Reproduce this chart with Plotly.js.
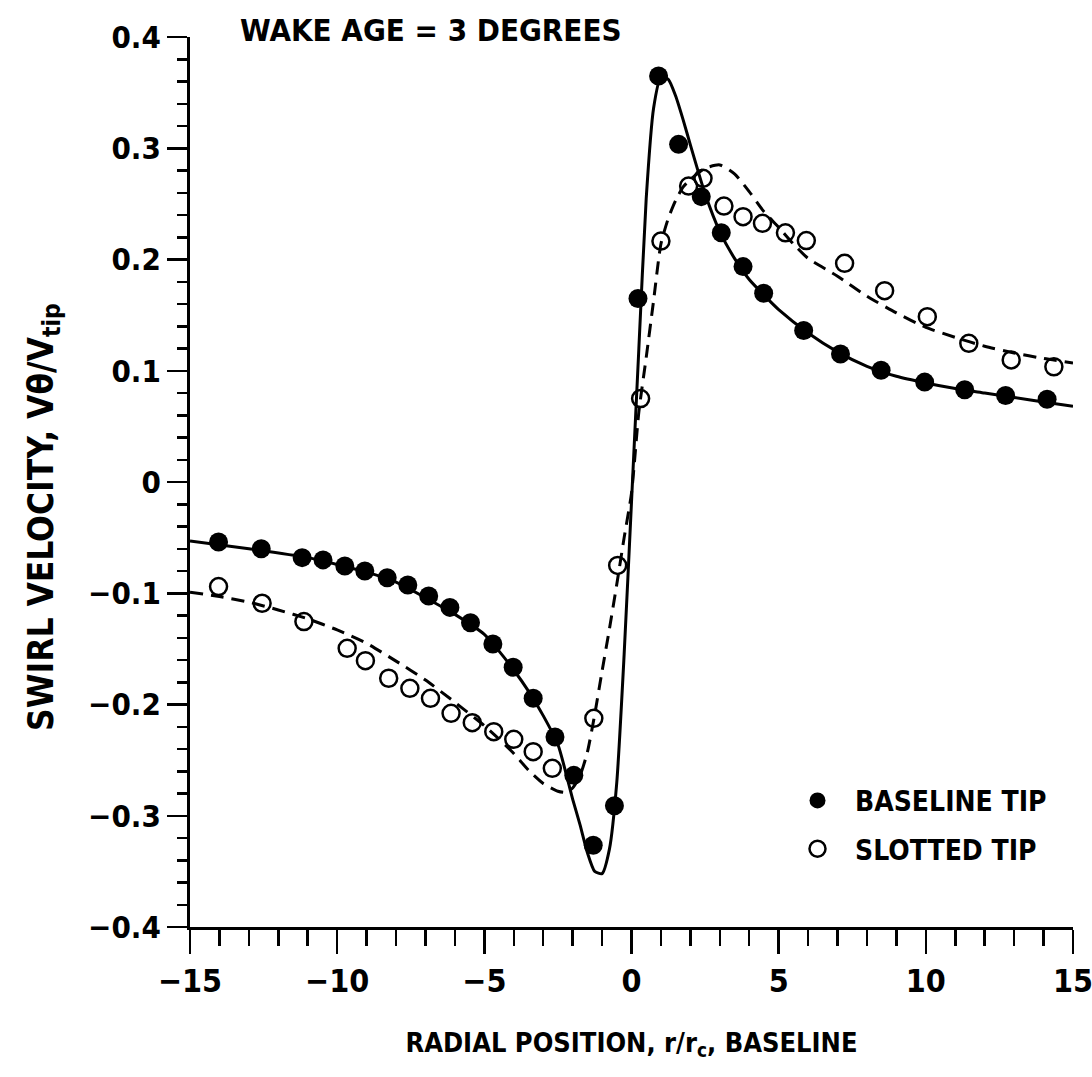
<!DOCTYPE html>
<html>
<head>
<meta charset="utf-8">
<script src="https://cdn.plot.ly/plotly-3.0.1.min.js"></script>
<style>
  html, body { margin: 0; padding: 0; background: #fff; }
  #chart { width: 1092px; height: 1077px; }
</style>
</head>
<body>
<div id="chart"></div>
<script>
// ---- Data ----
const baselineX = [-14.03, -12.58, -11.19, -10.48, -9.74, -9.06, -8.30, -7.60, -6.89, -6.17, -5.47, -4.71, -4.02, -3.34, -2.60, -1.96, -1.30, -0.58, 0.22, 0.92, 1.60, 2.37, 3.05, 3.79, 4.49, 5.85, 7.10, 8.48, 9.96, 11.32, 12.71, 14.12];
const baselineY = [-0.054, -0.060, -0.068, -0.070, -0.0755, -0.080, -0.086, -0.0926, -0.1025, -0.1127, -0.1265, -0.1456, -0.1666, -0.1944, -0.2292, -0.2637, -0.3265, -0.291, 0.165, 0.365, 0.3035, 0.2565, 0.224, 0.1936, 0.1696, 0.1362, 0.115, 0.1004, 0.0898, 0.0829, 0.0778, 0.0743];

const slottedX = [-14.03, -12.55, -11.13, -9.66, -9.04, -8.25, -7.53, -6.83, -6.13, -5.41, -4.68, -4.00, -3.34, -2.69, -1.28, -0.47, 0.31, 1.00, 1.94, 2.43, 3.14, 3.79, 4.45, 5.23, 5.94, 7.24, 8.60, 10.05, 11.46, 12.90, 14.35];
const slottedY = [-0.094, -0.109, -0.1255, -0.1495, -0.1606, -0.1764, -0.1855, -0.1944, -0.2079, -0.2163, -0.2244, -0.2313, -0.2424, -0.2574, -0.2124, -0.0750, 0.075, 0.2166, 0.266, 0.273, 0.248, 0.2385, 0.2325, 0.224, 0.217, 0.1966, 0.172, 0.1486, 0.1247, 0.1097, 0.1036];

// Fitted curves
const baselineCurveX = [-15, -13, -11, -9, -8, -7, -6, -5, -4.5, -4, -3.5, -3, -2.5, -2, -1.75, -1.5, -1.25, -1.0, -0.75, -0.5, -0.25, 0, 0.25, 0.5, 0.75, 1.0, 1.25, 1.5, 1.75, 2, 2.5, 3, 3.5, 4, 4.5, 5, 6, 7, 8, 9, 10, 11, 12, 13, 14, 15];
const baselineCurveY = [-0.053, -0.060, -0.068, -0.081, -0.090, -0.104, -0.119, -0.137, -0.152, -0.169, -0.188, -0.210, -0.236, -0.285, -0.308, -0.333, -0.350, -0.352, -0.330, -0.270, -0.155, -0.018, 0.120, 0.255, 0.336, 0.364, 0.362, 0.347, 0.326, 0.303, 0.259, 0.225, 0.201, 0.182, 0.168, 0.155, 0.134, 0.117, 0.104, 0.095, 0.089, 0.084, 0.080, 0.076, 0.072, 0.068];

const slottedCurveX = [-15, -14, -13, -12, -11, -10, -9, -8, -7, -6, -5, -4.5, -4, -3.5, -3, -2.5, -2.25, -2, -1.75, -1.5, -1.25, -1.0, -0.75, -0.5, -0.25, 0, 0.25, 0.5, 0.75, 1.0, 1.25, 1.5, 1.75, 2, 2.5, 3, 3.5, 4, 4.5, 5, 5.5, 6, 7, 8, 9, 10, 11, 12, 13, 14, 15];
const slottedCurveY = [-0.099, -0.103, -0.108, -0.115, -0.123, -0.133, -0.145, -0.161, -0.178, -0.198, -0.219, -0.231, -0.244, -0.259, -0.271, -0.278, -0.279, -0.275, -0.264, -0.243, -0.209, -0.170, -0.132, -0.092, -0.050, -0.010, 0.063, 0.112, 0.163, 0.214, 0.237, 0.253, 0.265, 0.272, 0.282, 0.285, 0.277, 0.261, 0.243, 0.229, 0.214, 0.201, 0.185, 0.167, 0.152, 0.139, 0.130, 0.122, 0.116, 0.111, 0.107];

const xTickVals = [-15, -10, -5, 0, 5, 10, 15];
const xTickText = ['\u221215', '\u221210', '\u22125', '0', '5', '10', '15'];
const yTickVals = [-0.4, -0.3, -0.2, -0.1, 0, 0.1, 0.2, 0.3, 0.4];
const yTickText = ['\u22120.4', '\u22120.3', '\u22120.2', '\u22120.1', '0', '0.1', '0.2', '0.3', '0.4'];

const titleText = '<b>WAKE AGE = 3 DEGREES</b>';
const xTitle = '<b>RADIAL POSITION, r/r<sub>c</sub>, BASELINE</b>';
const yTitle = '<b>SWIRL VELOCITY, V\u03b8/V<sub>tip</sub></b>';
const legendNames = ['<b>\u00a0\u00a0BASELINE TIP</b>', '<b>\u00a0\u00a0SLOTTED TIP</b>'];

const FONT = '"DejaVu Sans Condensed", "Liberation Sans Narrow", "Arial Narrow", sans-serif';

const traces = [
  {
    x: baselineCurveX, y: baselineCurveY, mode: 'lines', type: 'scatter',
    line: { color: '#000', width: 3, shape: 'spline', smoothing: 0.6 },
    showlegend: false, hoverinfo: 'skip'
  },
  {
    x: slottedCurveX, y: slottedCurveY, mode: 'lines', type: 'scatter',
    line: { color: '#000', width: 3, dash: '13px,8px', shape: 'spline', smoothing: 0.6 },
    showlegend: false, hoverinfo: 'skip'
  },
  {
    x: baselineX, y: baselineY, mode: 'markers', type: 'scatter', name: legendNames[0],
    legendgroup: 'a',
    marker: { symbol: 'circle', size: 19, color: '#000' }
  },
  {
    x: slottedX, y: slottedY, mode: 'markers', type: 'scatter', name: legendNames[1],
    legendgroup: 'b',
    marker: { symbol: 'circle-open', size: 17, color: '#000', line: { width: 2.5, color: '#000' } }
  }
];

const layout = {
  width: 1092, height: 1077,
  margin: { l: 190, r: 19, t: 37, b: 150 },
  paper_bgcolor: '#fff', plot_bgcolor: '#fff',
  font: { family: FONT, color: '#000', size: 30 },
  showlegend: true,
  legend: {
    x: 0.688, y: 0.170, xanchor: 'left', yanchor: 'top',
    bgcolor: 'rgba(0,0,0,0)', borderwidth: 0,
    font: { family: FONT, size: 28, color: '#000' },
    tracegroupgap: 9, itemwidth: 30
  },
  xaxis: {
    range: [-15, 15], showgrid: false, zeroline: false,
    showline: true, linecolor: '#000', linewidth: 3,
    ticks: 'outside', ticklen: 24, tickwidth: 2.5, tickcolor: '#000',
    tickvals: xTickVals, ticktext: xTickText, ticklabeloverflow: 'allow',
    tickfont: { family: FONT, size: 32, color: '#000', weight: 'bold' },
    minor: { ticks: 'outside', ticklen: 16, tickwidth: 2.5, tickcolor: '#000', dtick: 1, tick0: 0, showgrid: false },
    title: { text: xTitle, font: { family: FONT, size: 27, color: '#000' }, standoff: 34 },
    fixedrange: true
  },
  yaxis: {
    range: [-0.4, 0.4], showgrid: false, zeroline: false,
    showline: true, linecolor: '#000', linewidth: 3,
    ticks: 'outside', ticklen: 20, tickwidth: 2.5, tickcolor: '#000',
    tickvals: yTickVals, ticktext: yTickText, ticklabeloverflow: 'allow',
    tickfont: { family: FONT, size: 31, color: '#000', weight: 'bold' },
    minor: { ticks: 'outside', ticklen: 10, tickwidth: 2.5, tickcolor: '#000', dtick: 0.02, tick0: 0, showgrid: false },
    fixedrange: true
  },
  annotations: [
    {
      text: titleText, xref: 'paper', yref: 'paper', x: 0.0544, y: 1.0,
      xanchor: 'left', yanchor: 'middle', yshift: 7, showarrow: false,
      font: { family: FONT, size: 31, color: '#000' }
    },
    {
      text: yTitle, xref: 'paper', yref: 'paper', x: 0, y: 0.4607,
      xanchor: 'center', yanchor: 'middle', xshift: -146, textangle: -90, showarrow: false,
      font: { family: FONT, size: 35, color: '#000' }
    }
  ]
};

Plotly.newPlot('chart', traces, layout, { staticPlot: true, displayModeBar: false });
</script>
</body>
</html>
